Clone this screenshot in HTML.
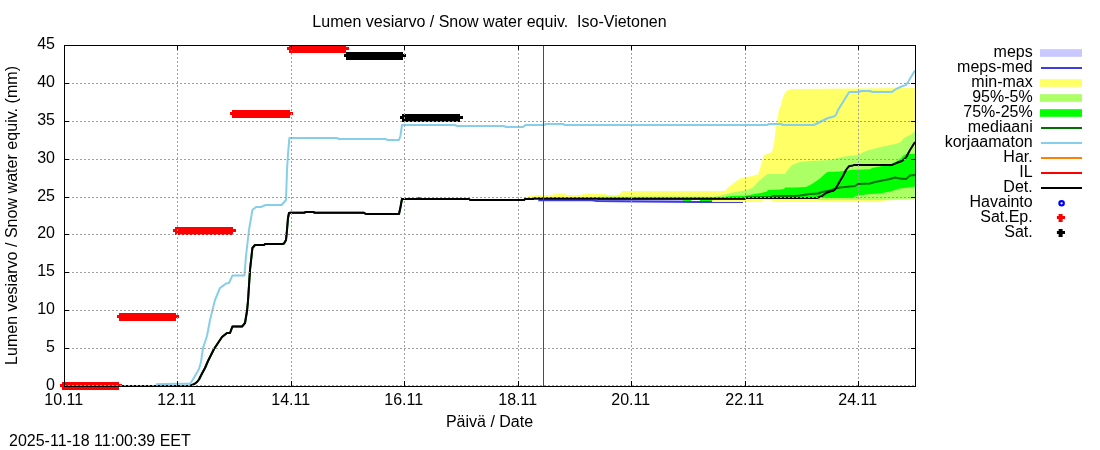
<!DOCTYPE html>
<html><head><meta charset="utf-8"><title>Lumen vesiarvo / Snow water equiv. Iso-Vietonen</title>
<style>html,body{margin:0;padding:0;background:#fff;overflow:hidden}svg{display:block}text{font-family:"Liberation Sans",Arial,Helvetica,sans-serif;font-size:16.00px;fill:#000}</style></head><body>
<svg width="1100" height="450" viewBox="0 0 1100 450">
<rect width="1100" height="450" fill="#fff"/>
<rect x="538" y="199.5" width="145" height="2.3" fill="#c8c8ff"/>
<polyline fill="none" stroke="#3c3ce0" stroke-width="2" points="538.5,200.0 592.0,200.0 597.0,201.0 640.0,201.6 700.0,202.0 743.0,202.0"/>
<polygon fill="#ffff66" points="526.0,197.0 530.0,196.0 534.0,196.0 534.5,195.0 553.0,195.0 553.5,194.0 566.0,194.0 566.5,195.0 582.0,195.0 582.5,194.0 606.0,194.0 606.5,195.0 617.0,195.0 620.0,194.0 622.0,191.0 725.0,191.0 728.0,187.5 740.0,178.5 745.0,177.5 758.0,174.5 761.0,165.0 764.0,155.0 772.0,152.0 774.4,141.0 776.0,126.0 777.0,121.0 778.0,115.0 779.0,110.0 781.0,105.0 782.0,100.0 784.0,95.0 786.0,91.5 788.0,90.0 792.0,89.0 916.0,88.0 916.0,198.5 910.0,199.5 885.0,200.5 880.0,202.0 773.5,202.0 772.0,200.3 763.0,200.3 761.5,202.0 712.0,202.0 712.0,199.0 526.0,199.0"/>
<polygon fill="#adff66" points="598.0,196.5 715.0,196.5 725.0,194.5 735.0,192.0 745.0,190.5 750.0,189.0 752.0,188.0 754.0,186.5 757.0,183.0 759.0,181.0 767.0,174.5 768.0,174.0 785.0,174.0 787.0,171.0 792.0,165.0 800.0,162.0 810.0,161.0 820.0,160.5 830.0,160.0 836.0,158.5 842.0,157.0 848.0,156.0 858.0,155.0 862.0,153.0 866.0,151.0 875.0,148.5 885.0,146.0 895.0,144.0 900.0,142.5 903.0,139.0 906.0,137.0 912.0,134.0 916.0,130.0 916.0,198.5 910.0,199.0 890.0,199.5 885.0,200.0 818.0,200.0 817.0,199.3 746.0,199.3 746.0,199.0 598.0,199.0"/>
<polygon fill="#00ff00" points="598.0,197.0 726.0,197.0 726.0,196.5 735.0,195.8 745.0,195.7 746.0,195.5 750.0,195.0 754.0,194.0 761.0,193.0 767.0,191.5 768.0,190.0 780.0,189.5 784.0,189.0 785.0,187.5 795.0,187.5 806.0,187.0 812.0,184.0 820.0,178.5 826.0,173.0 828.0,172.0 840.0,171.5 851.0,170.0 870.0,169.3 872.0,168.0 880.0,166.5 885.0,165.3 892.0,163.8 897.0,161.0 900.0,159.0 903.0,156.0 906.0,154.0 916.0,154.0 916.0,186.5 908.0,187.5 900.0,188.5 895.0,190.0 890.0,191.5 880.0,193.5 870.0,194.0 858.0,195.5 855.0,196.5 853.0,198.0 598.0,198.0"/>
<rect x="683" y="199.8" width="8" height="1.2" fill="#00ff00"/><rect x="700" y="199.8" width="12" height="1.2" fill="#00ff00"/>
<polyline fill="none" stroke="#007000" stroke-width="2" stroke-linejoin="round" points="64.0,386.0 190.0,386.0 194.0,384.2 197.0,382.0 199.0,379.5 202.0,373.5 205.0,368.0 208.0,361.0 214.0,349.0 222.0,337.0 227.0,333.0 230.0,333.0 232.4,326.6 242.0,326.6 245.0,323.0 247.0,311.0 248.0,301.0 250.0,270.0 252.4,248.0 255.0,245.0 264.0,245.0 265.0,244.1 282.0,244.1 284.0,243.5 286.0,240.0 287.0,230.0 288.0,218.0 289.0,213.0 290.0,212.8 304.0,212.8 306.0,212.0 313.0,212.0 315.0,212.8 364.0,212.8 366.0,214.0 399.0,214.0 400.5,207.0 402.0,198.9 417.5,198.9 419.0,197.9 420.5,198.9 469.0,198.9 470.0,199.9 524.0,199.9 525.0,199.0 533.0,199.0 534.0,198.6 597.0,198.6 598.0,198.8 745.0,198.5 746.0,197.6 770.0,197.2 773.0,196.1 795.0,196.0 800.0,195.5 810.0,194.0 818.0,193.5 822.0,192.0 830.0,190.5 836.0,188.5 840.0,187.5 850.0,186.5 855.0,186.0 858.0,184.0 870.0,183.5 875.0,182.0 880.0,181.0 890.0,179.0 895.0,177.5 900.0,178.5 906.0,179.0 910.0,175.5 915.0,175.0"/>
<polyline fill="none" stroke="#87ceeb" stroke-width="2" stroke-linejoin="round" points="156.0,384.3 175.0,383.8 190.0,383.8 192.0,381.0 195.0,376.0 199.0,369.0 201.0,362.0 203.0,348.0 207.0,336.0 210.0,320.0 215.0,300.0 220.0,288.0 226.0,283.6 229.0,283.0 232.4,275.6 244.4,275.6 246.0,256.0 249.0,230.0 252.4,210.0 256.0,207.0 261.0,207.0 265.6,205.0 281.6,205.0 286.0,200.0 287.0,170.0 288.0,154.0 289.4,138.0 337.0,138.0 339.0,139.0 385.0,139.0 388.0,140.0 399.0,140.0 400.4,136.0 402.0,125.0 455.0,125.0 457.0,126.0 504.0,126.0 506.0,127.0 523.0,127.0 525.6,125.0 544.0,125.0 546.0,124.0 563.0,124.0 565.0,125.0 767.0,125.0 769.0,124.0 781.0,124.0 783.0,125.0 814.0,125.0 820.0,122.0 823.0,120.5 828.0,118.0 834.0,116.5 836.0,115.0 838.0,110.0 843.0,102.0 846.0,97.0 849.0,92.3 850.5,92.0 859.0,92.0 861.0,91.0 870.0,91.0 872.4,92.0 892.0,92.0 893.0,91.0 897.0,88.5 902.0,86.3 906.0,85.0 908.0,82.0 911.0,77.0 915.0,70.5"/>
<polyline fill="none" stroke="#000" stroke-width="2" stroke-linejoin="round" points="64.0,386.0 190.0,386.0 194.0,384.2 197.0,382.0 199.0,379.5 202.0,373.5 205.0,368.0 208.0,361.0 214.0,349.0 222.0,337.0 227.0,333.0 230.0,333.0 232.4,326.6 242.0,326.6 245.0,323.0 247.0,311.0 248.0,301.0 250.0,270.0 252.4,248.0 255.0,245.0 264.0,245.0 265.0,244.1 282.0,244.1 284.0,243.5 286.0,240.0 287.0,230.0 288.0,218.0 289.0,213.0 290.0,212.8 304.0,212.8 306.0,212.0 313.0,212.0 315.0,212.8 364.0,212.8 366.0,214.0 399.0,214.0 400.5,207.0 402.0,198.9 469.0,198.9 470.0,199.9 524.0,199.9 525.0,199.0 533.0,199.0 534.0,198.6 597.0,198.6 598.0,198.8 745.0,198.7 746.0,198.0 817.0,198.0 822.0,196.0 826.0,193.0 830.0,191.5 834.0,190.5 836.0,188.0 840.0,181.0 843.0,176.0 846.0,170.0 849.0,166.2 853.0,165.5 854.0,164.9 892.0,164.9 897.0,162.8 902.0,161.0 906.0,157.5 910.0,150.0 915.0,142.0"/>
<path fill="#ff0000" shape-rendering="crispEdges" d="M62 382H119V384H122V387H119V390H62V387H60V384H62Z"/>
<path fill="#ff0000" shape-rendering="crispEdges" d="M119 313H176V315H179V318H176V321H119V318H117V315H119Z"/>
<path fill="#ff0000" shape-rendering="crispEdges" d="M175 227H233V229H236V232H233V235H175V232H173V229H175Z"/>
<path fill="#ff0000" shape-rendering="crispEdges" d="M232 110H290V112H293V115H290V118H232V115H230V112H232Z"/>
<path fill="#ff0000" shape-rendering="crispEdges" d="M289 45H346V47H349V50H346V53H289V50H287V47H289Z"/>
<path fill="#000" shape-rendering="crispEdges" d="M346 52H403V54H406V57H403V60H346V57H344V54H346Z"/>
<path fill="#000" shape-rendering="crispEdges" d="M402 114H460V116H463V119H460V122H402V119H400V116H402Z"/>
<line x1="177.5" y1="386.5" x2="177.5" y2="45" stroke="#a0a0a0" stroke-width="1" stroke-dasharray="2 2" shape-rendering="crispEdges"/>
<line x1="291.5" y1="386.5" x2="291.5" y2="45" stroke="#a0a0a0" stroke-width="1" stroke-dasharray="2 2" shape-rendering="crispEdges"/>
<line x1="404.5" y1="386.5" x2="404.5" y2="45" stroke="#a0a0a0" stroke-width="1" stroke-dasharray="2 2" shape-rendering="crispEdges"/>
<line x1="518.5" y1="386.5" x2="518.5" y2="45" stroke="#a0a0a0" stroke-width="1" stroke-dasharray="2 2" shape-rendering="crispEdges"/>
<line x1="631.5" y1="386.5" x2="631.5" y2="45" stroke="#a0a0a0" stroke-width="1" stroke-dasharray="2 2" shape-rendering="crispEdges"/>
<line x1="745.5" y1="386.5" x2="745.5" y2="45" stroke="#a0a0a0" stroke-width="1" stroke-dasharray="2 2" shape-rendering="crispEdges"/>
<line x1="858.5" y1="386.5" x2="858.5" y2="45" stroke="#a0a0a0" stroke-width="1" stroke-dasharray="2 2" shape-rendering="crispEdges"/>
<line x1="64" y1="348.5" x2="916" y2="348.5" stroke="#a0a0a0" stroke-width="1" stroke-dasharray="2 2" shape-rendering="crispEdges"/>
<line x1="64" y1="310.5" x2="916" y2="310.5" stroke="#a0a0a0" stroke-width="1" stroke-dasharray="2 2" shape-rendering="crispEdges"/>
<line x1="64" y1="272.5" x2="916" y2="272.5" stroke="#a0a0a0" stroke-width="1" stroke-dasharray="2 2" shape-rendering="crispEdges"/>
<line x1="64" y1="234.5" x2="916" y2="234.5" stroke="#a0a0a0" stroke-width="1" stroke-dasharray="2 2" shape-rendering="crispEdges"/>
<line x1="64" y1="197.5" x2="916" y2="197.5" stroke="#a0a0a0" stroke-width="1" stroke-dasharray="2 2" shape-rendering="crispEdges"/>
<line x1="64" y1="159.5" x2="916" y2="159.5" stroke="#a0a0a0" stroke-width="1" stroke-dasharray="2 2" shape-rendering="crispEdges"/>
<line x1="64" y1="121.5" x2="916" y2="121.5" stroke="#a0a0a0" stroke-width="1" stroke-dasharray="2 2" shape-rendering="crispEdges"/>
<line x1="64" y1="83.5" x2="916" y2="83.5" stroke="#a0a0a0" stroke-width="1" stroke-dasharray="2 2" shape-rendering="crispEdges"/>
<line x1="64" y1="385.5" x2="916" y2="385.5" stroke="#a0a0a0" stroke-width="1" stroke-dasharray="2 2" shape-rendering="crispEdges"/>
<line x1="543.5" y1="45" x2="543.5" y2="386" stroke="#ff0000" stroke-width="1" shape-rendering="crispEdges"/>
<line x1="64.5" y1="386" x2="64.5" y2="381" stroke="#000" shape-rendering="crispEdges"/>
<line x1="64.5" y1="45" x2="64.5" y2="50" stroke="#000" shape-rendering="crispEdges"/>
<line x1="177.5" y1="386" x2="177.5" y2="381" stroke="#000" shape-rendering="crispEdges"/>
<line x1="177.5" y1="45" x2="177.5" y2="50" stroke="#000" shape-rendering="crispEdges"/>
<line x1="291.5" y1="386" x2="291.5" y2="381" stroke="#000" shape-rendering="crispEdges"/>
<line x1="291.5" y1="45" x2="291.5" y2="50" stroke="#000" shape-rendering="crispEdges"/>
<line x1="404.5" y1="386" x2="404.5" y2="381" stroke="#000" shape-rendering="crispEdges"/>
<line x1="404.5" y1="45" x2="404.5" y2="50" stroke="#000" shape-rendering="crispEdges"/>
<line x1="518.5" y1="386" x2="518.5" y2="381" stroke="#000" shape-rendering="crispEdges"/>
<line x1="518.5" y1="45" x2="518.5" y2="50" stroke="#000" shape-rendering="crispEdges"/>
<line x1="631.5" y1="386" x2="631.5" y2="381" stroke="#000" shape-rendering="crispEdges"/>
<line x1="631.5" y1="45" x2="631.5" y2="50" stroke="#000" shape-rendering="crispEdges"/>
<line x1="745.5" y1="386" x2="745.5" y2="381" stroke="#000" shape-rendering="crispEdges"/>
<line x1="745.5" y1="45" x2="745.5" y2="50" stroke="#000" shape-rendering="crispEdges"/>
<line x1="858.5" y1="386" x2="858.5" y2="381" stroke="#000" shape-rendering="crispEdges"/>
<line x1="858.5" y1="45" x2="858.5" y2="50" stroke="#000" shape-rendering="crispEdges"/>
<line x1="64" y1="45.5" x2="69" y2="45.5" stroke="#000" shape-rendering="crispEdges"/>
<line x1="916" y1="45.5" x2="911" y2="45.5" stroke="#000" shape-rendering="crispEdges"/>
<line x1="64" y1="83.5" x2="69" y2="83.5" stroke="#000" shape-rendering="crispEdges"/>
<line x1="916" y1="83.5" x2="911" y2="83.5" stroke="#000" shape-rendering="crispEdges"/>
<line x1="64" y1="121.5" x2="69" y2="121.5" stroke="#000" shape-rendering="crispEdges"/>
<line x1="916" y1="121.5" x2="911" y2="121.5" stroke="#000" shape-rendering="crispEdges"/>
<line x1="64" y1="159.5" x2="69" y2="159.5" stroke="#000" shape-rendering="crispEdges"/>
<line x1="916" y1="159.5" x2="911" y2="159.5" stroke="#000" shape-rendering="crispEdges"/>
<line x1="64" y1="197.5" x2="69" y2="197.5" stroke="#000" shape-rendering="crispEdges"/>
<line x1="916" y1="197.5" x2="911" y2="197.5" stroke="#000" shape-rendering="crispEdges"/>
<line x1="64" y1="234.5" x2="69" y2="234.5" stroke="#000" shape-rendering="crispEdges"/>
<line x1="916" y1="234.5" x2="911" y2="234.5" stroke="#000" shape-rendering="crispEdges"/>
<line x1="64" y1="272.5" x2="69" y2="272.5" stroke="#000" shape-rendering="crispEdges"/>
<line x1="916" y1="272.5" x2="911" y2="272.5" stroke="#000" shape-rendering="crispEdges"/>
<line x1="64" y1="310.5" x2="69" y2="310.5" stroke="#000" shape-rendering="crispEdges"/>
<line x1="916" y1="310.5" x2="911" y2="310.5" stroke="#000" shape-rendering="crispEdges"/>
<line x1="64" y1="348.5" x2="69" y2="348.5" stroke="#000" shape-rendering="crispEdges"/>
<line x1="916" y1="348.5" x2="911" y2="348.5" stroke="#000" shape-rendering="crispEdges"/>
<line x1="64" y1="386.5" x2="69" y2="386.5" stroke="#000" shape-rendering="crispEdges"/>
<line x1="916" y1="386.5" x2="911" y2="386.5" stroke="#000" shape-rendering="crispEdges"/>
<rect x="64.5" y="45.5" width="851" height="341" fill="none" stroke="#000" stroke-width="1" shape-rendering="crispEdges"/>
<text x="489.5" y="27" text-anchor="middle">Lumen vesiarvo / Snow water equiv.  Iso-Vietonen</text>
<text x="55" y="390.0" text-anchor="end">0</text>
<text x="55" y="352.0" text-anchor="end">5</text>
<text x="55" y="314.0" text-anchor="end">10</text>
<text x="55" y="276.0" text-anchor="end">15</text>
<text x="55" y="238.0" text-anchor="end">20</text>
<text x="55" y="201.0" text-anchor="end">25</text>
<text x="55" y="163.0" text-anchor="end">30</text>
<text x="55" y="125.0" text-anchor="end">35</text>
<text x="55" y="87.0" text-anchor="end">40</text>
<text x="55" y="49.0" text-anchor="end">45</text>
<text x="63.7" y="405" text-anchor="middle">10.11</text>
<text x="176.7" y="405" text-anchor="middle">12.11</text>
<text x="290.7" y="405" text-anchor="middle">14.11</text>
<text x="403.7" y="405" text-anchor="middle">16.11</text>
<text x="517.7" y="405" text-anchor="middle">18.11</text>
<text x="630.7" y="405" text-anchor="middle">20.11</text>
<text x="744.7" y="405" text-anchor="middle">22.11</text>
<text x="857.7" y="405" text-anchor="middle">24.11</text>
<text x="489.5" y="427" text-anchor="middle">Päivä / Date</text>
<text transform="translate(17,215.5) rotate(-90)" text-anchor="middle" textLength="299" lengthAdjust="spacing">Lumen vesiarvo / Snow water equiv. (mm)</text>
<text x="9" y="446">2025-11-18 11:00:39 EET</text>
<text x="1032.7" y="56.5" text-anchor="end">meps</text>
<rect x="1040" y="49.2" width="42" height="7.6" fill="#c8c8ff"/>
<text x="1032.7" y="71.5" text-anchor="end">meps-med</text>
<line x1="1041" y1="68.0" x2="1082" y2="68.0" stroke="#3c3ce0" stroke-width="2"/>
<text x="1032.7" y="86.5" text-anchor="end">min-max</text>
<rect x="1040" y="79.2" width="42" height="7.6" fill="#ffff66"/>
<text x="1032.7" y="101.5" text-anchor="end">95%-5%</text>
<rect x="1040" y="94.2" width="42" height="7.6" fill="#adff66"/>
<text x="1032.7" y="116.5" text-anchor="end">75%-25%</text>
<rect x="1040" y="109.2" width="42" height="7.6" fill="#00ff00"/>
<text x="1032.7" y="131.5" text-anchor="end">mediaani</text>
<line x1="1041" y1="128.0" x2="1082" y2="128.0" stroke="#007000" stroke-width="2"/>
<text x="1032.7" y="146.5" text-anchor="end">korjaamaton</text>
<line x1="1041" y1="143.0" x2="1082" y2="143.0" stroke="#87ceeb" stroke-width="2"/>
<text x="1032.7" y="161.5" text-anchor="end">Har.</text>
<line x1="1041" y1="158.0" x2="1082" y2="158.0" stroke="#ff7f00" stroke-width="2"/>
<text x="1032.7" y="176.5" text-anchor="end">IL</text>
<line x1="1041" y1="173.0" x2="1082" y2="173.0" stroke="#ff0000" stroke-width="2"/>
<text x="1032.7" y="191.5" text-anchor="end">Det.</text>
<line x1="1041" y1="188.0" x2="1082" y2="188.0" stroke="#000" stroke-width="2"/>
<text x="1032.7" y="206.5" text-anchor="end">Havainto</text>
<circle cx="1061.6" cy="203.3" r="2.2" fill="none" stroke="#0000ff" stroke-width="2.2"/>
<text x="1032.7" y="221.5" text-anchor="end">Sat.Ep.</text>
<path fill="#ff0000" d="M1058.6 214h4v2h2.4v3h-2.4v3h-4v-3h-1.7v-3h1.7z"/>
<text x="1032.7" y="236.5" text-anchor="end">Sat.</text>
<path fill="#000" d="M1058.6 229h4v2h2.4v3h-2.4v3h-4v-3h-1.7v-3h1.7z"/>
</svg></body></html>
